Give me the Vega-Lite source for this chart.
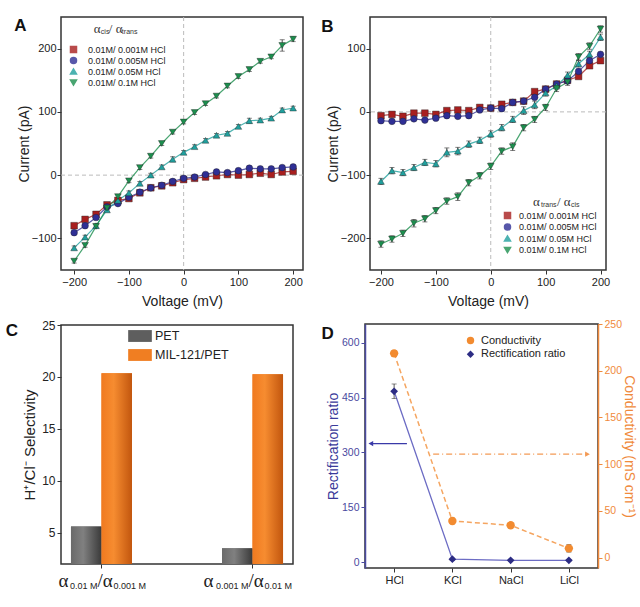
{
  "$schema": "https://vega.github.io/schema/vega-lite/v6.json",
  "background": "white",
  "padding": {"left": 4, "top": 15, "right": 0, "bottom": 0},
  "config": {
    "font": "Liberation Sans",
    "view": {"stroke": "#333", "strokeWidth": 1.5},
    "axis": {"grid": false, "domain": false, "tickColor": "#333", "tickSize": 4, "labelFontSize": 11, "labelColor": "#222", "titleFontSize": 14, "titleFontWeight": "normal", "titleColor": "#222", "labelPadding": 2},
    "axisX": {"titlePadding": 7},
    "axisY": {"titlePadding": 3},
    "title": {"fontSize": 17, "fontWeight": "bold", "anchor": "start", "frame": "bounds", "baseline": "top", "color": "#111"},
    "legend": {"labelColor": "#222"}
  },
  "datasets": {
    "ivA": [
      {"s":"a","V":-200,"I":-80,"e":2},{"s":"a","V":-180,"I":-70,"e":2},{"s":"a","V":-160,"I":-62,"e":2},{"s":"a","V":-140,"I":-47,"e":2},{"s":"a","V":-120,"I":-40,"e":2},{"s":"a","V":-100,"I":-37,"e":2},{"s":"a","V":-80,"I":-28,"e":2},{"s":"a","V":-60,"I":-20,"e":2},{"s":"a","V":-40,"I":-17,"e":2},{"s":"a","V":-20,"I":-12,"e":2},{"s":"a","V":0,"I":-7,"e":2},{"s":"a","V":20,"I":-5,"e":2},{"s":"a","V":40,"I":-3,"e":2},{"s":"a","V":60,"I":-1,"e":2},{"s":"a","V":80,"I":1,"e":2},{"s":"a","V":100,"I":0,"e":2},{"s":"a","V":120,"I":1,"e":2},{"s":"a","V":140,"I":3,"e":2},{"s":"a","V":160,"I":1,"e":2},{"s":"a","V":180,"I":5,"e":2},{"s":"a","V":200,"I":6,"e":2},
      {"s":"b","V":-200,"I":-91,"e":2},{"s":"b","V":-180,"I":-80,"e":2},{"s":"b","V":-160,"I":-67,"e":2},{"s":"b","V":-140,"I":-50,"e":2},{"s":"b","V":-120,"I":-45,"e":2},{"s":"b","V":-100,"I":-35,"e":2},{"s":"b","V":-80,"I":-27,"e":2},{"s":"b","V":-60,"I":-20,"e":2},{"s":"b","V":-40,"I":-16,"e":2},{"s":"b","V":-20,"I":-10,"e":2},{"s":"b","V":0,"I":-5,"e":2},{"s":"b","V":20,"I":-3,"e":2},{"s":"b","V":40,"I":1,"e":2},{"s":"b","V":60,"I":5,"e":2},{"s":"b","V":80,"I":4,"e":2},{"s":"b","V":100,"I":7,"e":2},{"s":"b","V":120,"I":11,"e":2},{"s":"b","V":140,"I":10,"e":2},{"s":"b","V":160,"I":10,"e":2},{"s":"b","V":180,"I":12,"e":2},{"s":"b","V":200,"I":13,"e":2},
      {"s":"c","V":-200,"I":-115,"e":3},{"s":"c","V":-180,"I":-98,"e":3},{"s":"c","V":-160,"I":-80,"e":3},{"s":"c","V":-140,"I":-55,"e":3},{"s":"c","V":-120,"I":-40,"e":3},{"s":"c","V":-100,"I":-28,"e":3},{"s":"c","V":-80,"I":-13,"e":3},{"s":"c","V":-60,"I":0,"e":3},{"s":"c","V":-40,"I":13,"e":3},{"s":"c","V":-20,"I":25,"e":4},{"s":"c","V":0,"I":36,"e":3},{"s":"c","V":20,"I":45,"e":3},{"s":"c","V":40,"I":55,"e":3},{"s":"c","V":60,"I":63,"e":3},{"s":"c","V":80,"I":66,"e":3},{"s":"c","V":100,"I":77,"e":3},{"s":"c","V":120,"I":86,"e":4},{"s":"c","V":140,"I":87,"e":3},{"s":"c","V":160,"I":90,"e":3},{"s":"c","V":180,"I":103,"e":3},{"s":"c","V":200,"I":106,"e":3},
      {"s":"d","V":-200,"I":-136,"e":3},{"s":"d","V":-180,"I":-111,"e":3},{"s":"d","V":-160,"I":-81,"e":3},{"s":"d","V":-140,"I":-52,"e":3},{"s":"d","V":-120,"I":-34,"e":3},{"s":"d","V":-100,"I":-9,"e":3},{"s":"d","V":-80,"I":12,"e":3},{"s":"d","V":-60,"I":30,"e":3},{"s":"d","V":-40,"I":50,"e":3},{"s":"d","V":-20,"I":68,"e":3},{"s":"d","V":0,"I":84,"e":3},{"s":"d","V":20,"I":99,"e":3},{"s":"d","V":40,"I":113,"e":3},{"s":"d","V":60,"I":125,"e":3},{"s":"d","V":80,"I":141,"e":3},{"s":"d","V":100,"I":156,"e":3},{"s":"d","V":120,"I":167,"e":3},{"s":"d","V":140,"I":180,"e":3},{"s":"d","V":160,"I":187,"e":3},{"s":"d","V":180,"I":205,"e":9},{"s":"d","V":200,"I":215,"e":4}
    ],
    "ivB": [
      {"s":"a","V":-200,"I":-6,"e":3},{"s":"a","V":-180,"I":-4,"e":3},{"s":"a","V":-160,"I":-7,"e":3},{"s":"a","V":-140,"I":-2,"e":3},{"s":"a","V":-120,"I":-2,"e":3},{"s":"a","V":-100,"I":-4,"e":3},{"s":"a","V":-80,"I":2,"e":3},{"s":"a","V":-60,"I":3,"e":3},{"s":"a","V":-40,"I":2,"e":3},{"s":"a","V":-20,"I":7,"e":3},{"s":"a","V":0,"I":6,"e":3},{"s":"a","V":20,"I":12,"e":3},{"s":"a","V":40,"I":15,"e":3},{"s":"a","V":60,"I":17,"e":3},{"s":"a","V":80,"I":32,"e":3},{"s":"a","V":100,"I":36,"e":3},{"s":"a","V":120,"I":44,"e":3},{"s":"a","V":140,"I":50,"e":3},{"s":"a","V":160,"I":56,"e":3},{"s":"a","V":180,"I":73,"e":3},{"s":"a","V":200,"I":81,"e":3},
      {"s":"b","V":-200,"I":-14,"e":2},{"s":"b","V":-180,"I":-15,"e":2},{"s":"b","V":-160,"I":-15,"e":2},{"s":"b","V":-140,"I":-11,"e":2},{"s":"b","V":-120,"I":-13,"e":2},{"s":"b","V":-100,"I":-10,"e":2},{"s":"b","V":-80,"I":-6,"e":2},{"s":"b","V":-60,"I":-7,"e":2},{"s":"b","V":-40,"I":-6,"e":2},{"s":"b","V":-20,"I":3,"e":2},{"s":"b","V":0,"I":6,"e":2},{"s":"b","V":20,"I":5,"e":2},{"s":"b","V":40,"I":15,"e":2},{"s":"b","V":60,"I":17,"e":2},{"s":"b","V":80,"I":23,"e":2},{"s":"b","V":100,"I":36,"e":2},{"s":"b","V":120,"I":44,"e":2},{"s":"b","V":140,"I":49,"e":2},{"s":"b","V":160,"I":64,"e":2},{"s":"b","V":180,"I":81,"e":2},{"s":"b","V":200,"I":91,"e":2},
      {"s":"c","V":-200,"I":-110,"e":5},{"s":"c","V":-180,"I":-93,"e":5},{"s":"c","V":-160,"I":-96,"e":5},{"s":"c","V":-140,"I":-88,"e":5},{"s":"c","V":-120,"I":-80,"e":5},{"s":"c","V":-100,"I":-82,"e":5},{"s":"c","V":-80,"I":-64,"e":7},{"s":"c","V":-60,"I":-62,"e":6},{"s":"c","V":-40,"I":-51,"e":5},{"s":"c","V":-20,"I":-45,"e":5},{"s":"c","V":0,"I":-35,"e":5},{"s":"c","V":20,"I":-25,"e":5},{"s":"c","V":40,"I":-12,"e":5},{"s":"c","V":60,"I":2,"e":6},{"s":"c","V":80,"I":11,"e":6},{"s":"c","V":100,"I":30,"e":5},{"s":"c","V":120,"I":41,"e":5},{"s":"c","V":140,"I":58,"e":5},{"s":"c","V":160,"I":76,"e":5},{"s":"c","V":180,"I":91,"e":5},{"s":"c","V":200,"I":118,"e":5},
      {"s":"d","V":-200,"I":-209,"e":5},{"s":"d","V":-180,"I":-201,"e":5},{"s":"d","V":-160,"I":-192,"e":5},{"s":"d","V":-140,"I":-176,"e":6},{"s":"d","V":-120,"I":-169,"e":5},{"s":"d","V":-100,"I":-156,"e":5},{"s":"d","V":-80,"I":-141,"e":5},{"s":"d","V":-60,"I":-134,"e":6},{"s":"d","V":-40,"I":-112,"e":5},{"s":"d","V":-20,"I":-101,"e":5},{"s":"d","V":0,"I":-86,"e":5},{"s":"d","V":20,"I":-62,"e":5},{"s":"d","V":40,"I":-55,"e":6},{"s":"d","V":60,"I":-25,"e":5},{"s":"d","V":80,"I":-12,"e":5},{"s":"d","V":100,"I":7,"e":5},{"s":"d","V":120,"I":37,"e":5},{"s":"d","V":140,"I":47,"e":5},{"s":"d","V":160,"I":87,"e":5},{"s":"d","V":180,"I":104,"e":5},{"s":"d","V":200,"I":131,"e":5}
    ],
    "sel": [
      {"pair": "a", "mem": "PET", "S": 5.6},
      {"pair": "a", "mem": "MIL-121/PET", "S": 20.36},
      {"pair": "b", "mem": "PET", "S": 3.51},
      {"pair": "b", "mem": "MIL-121/PET", "S": 20.26}
    ],
    "rect": [
      {"ion": 1, "series": "Rectification ratio", "R": 467, "Re": 20},
      {"ion": 2, "series": "Rectification ratio", "R": 8, "Re": 3},
      {"ion": 3, "series": "Rectification ratio", "R": 5, "Re": 2},
      {"ion": 4, "series": "Rectification ratio", "R": 5, "Re": 2}
    ],
    "cond": [
      {"ion": 1, "series": "Conductivity", "C": 218.6, "Ce": 3},
      {"ion": 2, "series": "Conductivity", "C": 39.3, "Ce": 3},
      {"ion": 3, "series": "Conductivity", "C": 34.7, "Ce": 3},
      {"ion": 4, "series": "Conductivity", "C": 10, "Ce": 4}
    ]
  },
  "resolve": {"scale": {"color": "independent", "shape": "independent"}},
  "columns": 2,
  "align": "none",
  "spacing": {"row": 9, "column": 15},
  "concat": [
    {
      "width": 242, "height": 253,
      "title": {"text": "A", "dx": -3, "offset": -18},
      "data": {"name": "ivA"},
      "layer": [
        {"data": {"values": [{}]}, "mark": {"type": "rule", "color": "#bbbbbb", "strokeDash": [4, 3], "strokeWidth": 1}, "encoding": {"y": {"datum": 0}}},
        {"data": {"values": [{}]}, "mark": {"type": "rule", "color": "#bbbbbb", "strokeDash": [4, 3], "strokeWidth": 1}, "encoding": {"x": {"datum": 0}}},
        {
          "mark": {"type": "line", "strokeWidth": 1.2, "opacity": 0.8},
          "encoding": {
            "x": {"field": "V", "type": "quantitative", "scale": {"domain": [-224, 218], "nice": false, "zero": false}, "axis": {"values": [-200, -100, 0, 100, 200], "title": "Voltage (mV)"}},
            "y": {"field": "I", "type": "quantitative", "scale": {"domain": [-150, 250], "nice": false}, "axis": {"values": [-100, 0, 100, 200], "title": "Current (pA)", "titlePadding": 0, "labelPadding": 1}},
            "color": {"field": "s", "type": "nominal", "scale": {"domain": ["a", "b", "c", "d"], "range": ["#a81f1f", "#2f2f95", "#20a09e", "#1c8f4e"]}, "legend": {"orient": "none", "legendX": 8, "legendY": 28, "title": null, "labelFontSize": 9, "symbolSize": 36, "rowPadding": -5, "labelOffset": 10, "labelExpr": "datum.label == 'a' ? '0.01M/ 0.001M HCl' : datum.label == 'b' ? '0.01M/ 0.005M HCl' : datum.label == 'c' ? '0.01M/ 0.05M HCl' : '0.01M/ 0.1M HCl'"}}
          }
        },
        {
          "mark": {"type": "errorbar", "ticks": true, "color": "#222", "thickness": 0.8},
          "encoding": {
            "x": {"field": "V", "type": "quantitative"},
            "y": {"field": "I", "type": "quantitative", "title": "Current (pA)"},
            "yError": {"field": "e"}
          }
        },
        {
          "mark": {"type": "point", "filled": true, "size": 45, "opacity": 1, "stroke": "#222", "strokeWidth": 0.4},
          "encoding": {
            "x": {"field": "V", "type": "quantitative", "title": "Voltage (mV)"},
            "y": {"field": "I", "type": "quantitative", "title": "Current (pA)"},
            "color": {"field": "s", "type": "nominal", "legend": {"orient": "none", "legendX": 8, "legendY": 28, "title": null, "labelFontSize": 9, "symbolSize": 36, "rowPadding": -5, "labelOffset": 10, "labelExpr": "datum.label == 'a' ? '0.01M/ 0.001M HCl' : datum.label == 'b' ? '0.01M/ 0.005M HCl' : datum.label == 'c' ? '0.01M/ 0.05M HCl' : '0.01M/ 0.1M HCl'"}},
            "shape": {"field": "s", "type": "nominal", "scale": {"domain": ["a", "b", "c", "d"], "range": ["square", "circle", "triangle-up", "triangle-down"]}, "legend": {"orient": "none", "legendX": 8, "legendY": 28, "title": null, "labelFontSize": 9, "symbolSize": 36, "rowPadding": -5, "labelOffset": 10, "labelExpr": "datum.label == 'a' ? '0.01M/ 0.001M HCl' : datum.label == 'b' ? '0.01M/ 0.005M HCl' : datum.label == 'c' ? '0.01M/ 0.05M HCl' : '0.01M/ 0.1M HCl'"}}
          }
        },
        {"data": {"values": [{}]}, "mark": {"type": "text", "align": "left", "baseline": "middle", "font": "Liberation Serif", "fontSize": 13, "color": "#333"}, "encoding": {"x": {"datum": -164}, "y": {"datum": 231}, "text": {"value": "α"}}},
        {"data": {"values": [{}]}, "mark": {"type": "text", "align": "left", "baseline": "middle", "fontSize": 7, "dx": 7, "dy": 3, "color": "#333"}, "encoding": {"x": {"datum": -164}, "y": {"datum": 231}, "text": {"value": "cis"}}},
        {"data": {"values": [{}]}, "mark": {"type": "text", "align": "left", "baseline": "middle", "font": "Liberation Serif", "fontSize": 13, "dx": 15, "color": "#333"}, "encoding": {"x": {"datum": -164}, "y": {"datum": 231}, "text": {"value": "/ α"}}},
        {"data": {"values": [{}]}, "mark": {"type": "text", "align": "left", "baseline": "middle", "fontSize": 7, "dx": 28, "dy": 3, "color": "#333"}, "encoding": {"x": {"datum": -164}, "y": {"datum": 231}, "text": {"value": "trans"}}}
      ]
    },
    {
      "width": 236, "height": 253,
      "title": {"text": "B", "dx": -5, "offset": -19},
      "data": {"name": "ivB"},
      "layer": [
        {"data": {"values": [{}]}, "mark": {"type": "rule", "color": "#bbbbbb", "strokeDash": [4, 3], "strokeWidth": 1}, "encoding": {"y": {"datum": 0}}},
        {"data": {"values": [{}]}, "mark": {"type": "rule", "color": "#bbbbbb", "strokeDash": [4, 3], "strokeWidth": 1}, "encoding": {"x": {"datum": 0}}},
        {
          "mark": {"type": "line", "strokeWidth": 1.2, "opacity": 0.8},
          "encoding": {
            "x": {"field": "V", "type": "quantitative", "scale": {"domain": [-220, 210], "nice": false, "zero": false}, "axis": {"values": [-200, -100, 0, 100, 200], "title": "Voltage (mV)"}},
            "y": {"field": "I", "type": "quantitative", "scale": {"domain": [-250, 150], "nice": false}, "axis": {"values": [-200, -100, 0, 100], "title": "Current (pA)", "titlePadding": 0, "labelPadding": 1}},
            "color": {"field": "s", "type": "nominal", "scale": {"domain": ["a", "b", "c", "d"], "range": ["#a81f1f", "#2f2f95", "#20a09e", "#1c8f4e"]}, "legend": {"orient": "none", "legendX": 133, "legendY": 194, "title": null, "labelFontSize": 9, "symbolSize": 36, "rowPadding": -1.5, "labelOffset": 7, "labelExpr": "datum.label == 'a' ? '0.01M/ 0.001M HCl' : datum.label == 'b' ? '0.01M/ 0.005M HCl' : datum.label == 'c' ? '0.01M/ 0.05M HCl' : '0.01M/ 0.1M HCl'"}}
          }
        },
        {
          "mark": {"type": "errorbar", "ticks": true, "color": "#222", "thickness": 0.8},
          "encoding": {
            "x": {"field": "V", "type": "quantitative"},
            "y": {"field": "I", "type": "quantitative", "title": "Current (pA)"},
            "yError": {"field": "e"}
          }
        },
        {
          "mark": {"type": "point", "filled": true, "size": 45, "opacity": 1, "stroke": "#222", "strokeWidth": 0.4},
          "encoding": {
            "x": {"field": "V", "type": "quantitative", "title": "Voltage (mV)"},
            "y": {"field": "I", "type": "quantitative", "title": "Current (pA)"},
            "color": {"field": "s", "type": "nominal", "legend": {"orient": "none", "legendX": 133, "legendY": 194, "title": null, "labelFontSize": 9, "symbolSize": 36, "rowPadding": -1.5, "labelOffset": 7, "labelExpr": "datum.label == 'a' ? '0.01M/ 0.001M HCl' : datum.label == 'b' ? '0.01M/ 0.005M HCl' : datum.label == 'c' ? '0.01M/ 0.05M HCl' : '0.01M/ 0.1M HCl'"}},
            "shape": {"field": "s", "type": "nominal", "scale": {"domain": ["a", "b", "c", "d"], "range": ["square", "circle", "triangle-up", "triangle-down"]}, "legend": {"orient": "none", "legendX": 133, "legendY": 194, "title": null, "labelFontSize": 9, "symbolSize": 36, "rowPadding": -1.5, "labelOffset": 7, "labelExpr": "datum.label == 'a' ? '0.01M/ 0.001M HCl' : datum.label == 'b' ? '0.01M/ 0.005M HCl' : datum.label == 'c' ? '0.01M/ 0.05M HCl' : '0.01M/ 0.1M HCl'"}}
          }
        },
        {"data": {"values": [{}]}, "mark": {"type": "text", "align": "left", "baseline": "middle", "font": "Liberation Serif", "fontSize": 13, "color": "#333"}, "encoding": {"x": {"datum": 77}, "y": {"datum": -142}, "text": {"value": "α"}}},
        {"data": {"values": [{}]}, "mark": {"type": "text", "align": "left", "baseline": "middle", "fontSize": 7, "dx": 8, "dy": 3, "color": "#333"}, "encoding": {"x": {"datum": 77}, "y": {"datum": -142}, "text": {"value": "trans"}}},
        {"data": {"values": [{}]}, "mark": {"type": "text", "align": "left", "baseline": "middle", "font": "Liberation Serif", "fontSize": 13, "dx": 24, "color": "#333"}, "encoding": {"x": {"datum": 77}, "y": {"datum": -142}, "text": {"value": "/ α"}}},
        {"data": {"values": [{}]}, "mark": {"type": "text", "align": "left", "baseline": "middle", "fontSize": 7, "dx": 38, "dy": 3, "color": "#333"}, "encoding": {"x": {"datum": 77}, "y": {"datum": -142}, "text": {"value": "cis"}}}
      ]
    },
    {
      "width": 232, "height": 239,
      "title": {"text": "C", "dx": -17, "offset": -21},
      "data": {"name": "sel"},
      "layer": [
        {
          "mark": {"type": "bar"},
          "encoding": {
            "x": {"field": "pair", "type": "nominal", "scale": {"paddingInner": 0.596, "paddingOuter": 0.066}, "axis": {"labels": false, "title": null}},
            "xOffset": {"field": "mem", "type": "nominal", "scale": {"domain": ["PET", "MIL-121/PET"], "paddingInner": 0, "paddingOuter": 0}},
            "y": {"field": "S", "type": "quantitative", "scale": {"domain": [2, 25], "nice": false, "zero": false}, "axis": {"values": [5, 10, 15, 20, 25], "title": "H⁺/Cl⁻ Selectivity", "titleFontSize": 15, "labelFontSize": 12, "titlePadding": 4}},
            "y2": {"datum": 2},
            "color": {"field": "mem", "type": "nominal", "scale": {"domain": ["PET", "MIL-121/PET"], "range": ["#5e5e5e", "#f07e22"]}, "legend": {"orient": "none", "legendX": 67, "legendY": -1, "title": null, "labelFontSize": 12.5, "symbolType": "M-1,-0.5H1V0.5H-1Z", "symbolSize": 560, "symbolStrokeWidth": 0, "rowPadding": -5, "labelOffset": 3}}
          }
        },
        {
          "transform": [{"filter": "datum.mem == 'PET'"}],
          "mark": {"type": "bar", "color": {"gradient": "linear", "x1": 0, "y1": 0, "x2": 1, "y2": 0, "stops": [{"offset": 0, "color": "#6a6a6a"}, {"offset": 0.4, "color": "#808080"}, {"offset": 1, "color": "#3a3a3a"}]}},
          "encoding": {
            "x": {"field": "pair", "type": "nominal"},
            "xOffset": {"field": "mem", "type": "nominal"},
            "y": {"field": "S", "type": "quantitative"},
            "y2": {"datum": 2}
          }
        },
        {
          "transform": [{"filter": "datum.mem == 'MIL-121/PET'"}],
          "mark": {"type": "bar", "color": {"gradient": "linear", "x1": 0, "y1": 0, "x2": 1, "y2": 0, "stops": [{"offset": 0, "color": "#f07a20"}, {"offset": 0.4, "color": "#f68c30"}, {"offset": 1, "color": "#c2560e"}]}},
          "encoding": {
            "x": {"field": "pair", "type": "nominal"},
            "xOffset": {"field": "mem", "type": "nominal"},
            "y": {"field": "S", "type": "quantitative"},
            "y2": {"datum": 2}
          }
        },
        {"data": {"values": [{}]}, "mark": {"type": "text", "align": "right", "baseline": "middle", "font": "Liberation Serif", "fontSize": 19, "dx": -33, "color": "#222"}, "encoding": {"x": {"datum": "a"}, "y": {"datum": 0.4}, "text": {"value": "α"}}},
        {"data": {"values": [{}]}, "mark": {"type": "text", "align": "right", "baseline": "middle", "font": "Liberation Serif", "fontSize": 19, "dx": -39, "color": "#222"}, "encoding": {"x": {"datum": "b"}, "y": {"datum": 0.4}, "text": {"value": "α"}}},
        {"data": {"values": [{"pair": "a"}, {"pair": "b"}]}, "mark": {"type": "text", "align": "left", "baseline": "middle", "font": "Liberation Serif", "fontSize": 19, "dx": -4, "color": "#222"}, "encoding": {"x": {"field": "pair", "type": "nominal"}, "y": {"datum": 0.4}, "text": {"value": "/α"}}},
        {"data": {"values": [{"pair": "a", "t": "0.01 M"}, {"pair": "b", "t": "0.001 M"}]}, "mark": {"type": "text", "align": "right", "baseline": "middle", "fontSize": 9, "dx": -4, "dy": 5, "color": "#222"}, "encoding": {"x": {"field": "pair", "type": "nominal"}, "y": {"datum": 0.4}, "text": {"field": "t"}}},
        {"data": {"values": [{"pair": "a", "t": "0.001 M"}, {"pair": "b", "t": "0.01 M"}]}, "mark": {"type": "text", "align": "left", "baseline": "middle", "fontSize": 9, "dx": 12, "dy": 5, "color": "#222"}, "encoding": {"x": {"field": "pair", "type": "nominal"}, "y": {"datum": 0.4}, "text": {"field": "t"}}}
      ]
    },
    {
      "width": 233, "height": 244,
      "title": {"text": "D", "dx": -5, "offset": -24},
      "resolve": {"scale": {"y": "independent"}},
      "layer": [
        {
          "data": {"name": "rect"},
          "layer": [
            {
              "mark": {"type": "line", "color": "#6c6cc4", "strokeWidth": 1.3},
              "encoding": {
                "x": {"field": "ion", "type": "quantitative", "scale": {"domain": [0.5, 4.5], "nice": false, "zero": false}, "axis": {"values": [1, 2, 3, 4], "title": null, "labelFontSize": 11, "labelExpr": "datum.value == 1 ? 'HCl' : datum.value == 2 ? 'KCl' : datum.value == 3 ? 'NaCl' : 'LiCl'"}},
                "y": {"field": "R", "type": "quantitative", "scale": {"domain": [-16, 651], "nice": false, "zero": false}, "axis": {"values": [0, 150, 300, 450, 600], "title": "Rectification ratio", "labelFontSize": 10.5, "labelColor": "#4a4aa0", "titleColor": "#3a3a9a", "titleFontSize": 14, "titlePadding": 1, "tickColor": "#4a4aa0", "domain": true, "domainColor": "#4a4aa0", "domainWidth": 1.5}}
              }
            },
            {
              "mark": {"type": "errorbar", "ticks": true, "color": "#333", "thickness": 0.8},
              "encoding": {
                "x": {"field": "ion", "type": "quantitative"},
                "y": {"field": "R", "type": "quantitative", "title": "Rectification ratio"},
                "yError": {"field": "Re"}
              }
            },
            {
              "mark": {"type": "point", "filled": true, "size": 60, "opacity": 1},
              "encoding": {
                "x": {"field": "ion", "type": "quantitative"},
                "y": {"field": "R", "type": "quantitative", "title": "Rectification ratio"},
                "color": {"field": "series", "type": "nominal", "scale": {"domain": ["Conductivity", "Rectification ratio"], "range": ["#f28b30", "#2c2c84"]}, "legend": {"orient": "none", "legendX": 100, "legendY": 11, "title": null, "labelFontSize": 11, "symbolSize": 55, "rowPadding": 1.8, "labelOffset": 5}},
                "shape": {"field": "series", "type": "nominal", "scale": {"domain": ["Conductivity", "Rectification ratio"], "range": ["circle", "diamond"]}, "legend": {"orient": "none", "legendX": 100, "legendY": 11, "title": null, "labelFontSize": 11, "symbolSize": 55, "rowPadding": 1.8, "labelOffset": 5}}
              }
            },
            {"data": {"values": [{}]}, "mark": {"type": "rule", "color": "#3a3aa8", "strokeWidth": 1.3}, "encoding": {"x": {"datum": 1.22}, "x2": {"datum": 0.6}, "y": {"datum": 324}}},
            {"data": {"values": [{}]}, "mark": {"type": "point", "shape": "triangle-left", "filled": true, "size": 30, "color": "#3a3aa8", "opacity": 1}, "encoding": {"x": {"datum": 0.6}, "y": {"datum": 324}}}
          ]
        },
        {
          "data": {"name": "cond"},
          "layer": [
            {
              "mark": {"type": "line", "color": "#f5a560", "strokeWidth": 1.5, "strokeDash": [5, 3]},
              "encoding": {
                "x": {"field": "ion", "type": "quantitative"},
                "y": {"field": "C", "type": "quantitative", "scale": {"domain": [-11, 250], "nice": false, "zero": false}, "axis": {"orient": "right", "values": [0, 50, 100, 150, 200, 250], "title": "Conductivity (mS cm⁻¹)", "labelFontSize": 10.5, "labelColor": "#f08a3c", "titleColor": "#f08a3c", "titleFontSize": 14, "titlePadding": 0, "tickColor": "#f08a3c", "domain": true, "domainColor": "#f08a3c", "domainWidth": 1.5}}
              }
            },
            {
              "mark": {"type": "errorbar", "ticks": true, "color": "#333", "thickness": 0.8},
              "encoding": {
                "x": {"field": "ion", "type": "quantitative"},
                "y": {"field": "C", "type": "quantitative", "title": "Conductivity (mS cm⁻¹)"},
                "yError": {"field": "Ce"}
              }
            },
            {
              "mark": {"type": "point", "filled": true, "size": 70, "opacity": 1},
              "encoding": {
                "x": {"field": "ion", "type": "quantitative"},
                "y": {"field": "C", "type": "quantitative", "title": "Conductivity (mS cm⁻¹)"},
                "color": {"field": "series", "type": "nominal", "scale": {"domain": ["Conductivity", "Rectification ratio"], "range": ["#f28b30", "#2c2c84"]}, "legend": {"orient": "none", "legendX": 100, "legendY": 11, "title": null, "labelFontSize": 11, "symbolSize": 55, "rowPadding": 1.8, "labelOffset": 5}},
                "shape": {"field": "series", "type": "nominal", "scale": {"domain": ["Conductivity", "Rectification ratio"], "range": ["circle", "diamond"]}, "legend": {"orient": "none", "legendX": 100, "legendY": 11, "title": null, "labelFontSize": 11, "symbolSize": 55, "rowPadding": 1.8, "labelOffset": 5}}
              }
            },
            {"data": {"values": [{}]}, "mark": {"type": "rule", "color": "#f39a55", "strokeWidth": 1.3, "strokeDash": [6, 3, 1, 3]}, "encoding": {"x": {"datum": 1.67}, "x2": {"datum": 4.32}, "y": {"datum": 110.8}}},
            {"data": {"values": [{}]}, "mark": {"type": "point", "shape": "triangle-right", "filled": true, "size": 30, "color": "#f39a55", "opacity": 1}, "encoding": {"x": {"datum": 4.32}, "y": {"datum": 110.8}}}
          ]
        }
      ]
    }
  ]
}
